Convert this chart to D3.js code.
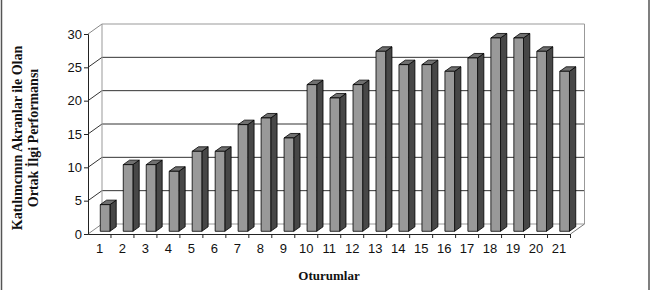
<!DOCTYPE html>
<html>
<head>
<meta charset="utf-8">
<script src="https://cdn.jsdelivr.net/npm/d3@7"></script>
<style>
html,body{margin:0;padding:0;background:#fff;}
svg{display:block;}
</style>
</head>
<body>
<svg id="chart" width="659" height="290"></svg>
<script>
const categories = ["1","2","3","4","5","6","7","8","9","10","11","12","13","14","15","16","17","18","19","20","21"];
const values = [4,10,10,9,12,12,16,17,14,22,20,22,27,25,25,24,26,29,29,27,24];
const yTicks = [0,5,10,15,20,25,30];
const yTitle = ["Katılımcının Akranlar ile Olan","Ortak İlgi Performansı"];
const xTitle = "Oturumlar";

const svg = d3.select("#chart");
const DX = 14, DY = 10;           // depth offset
const x0 = 88, x1 = 570.5;
const x = d3.scaleBand().domain(categories).range([x0, x1]).padding(0);
const y = d3.scaleLinear().domain([0, 30]).range([234, 34]);
const P = (px, py, z) => [px + z * DX, py - z * DY];

// frame lines (left/right)
svg.append("line").attr("x1",1.5).attr("x2",1.5).attr("y1",0).attr("y2",290).attr("stroke","#555").attr("stroke-width",1.5);
svg.append("line").attr("x1",649).attr("x2",649).attr("y1",0).attr("y2",290).attr("stroke","#555").attr("stroke-width",1.5);

const g = svg.append("g");
// back wall gridlines
yTicks.forEach(t => {
  const a = P(x0, y(t), 1), b = P(x1, y(t), 1);
  const col = (t === 30) ? "#999" : "#333";
  g.append("line").attr("x1", a[0]).attr("y1", a[1]).attr("x2", b[0]).attr("y2", b[1])
    .attr("stroke", t === 0 ? "#999" : col).attr("stroke-width", 1);
  g.append("line").attr("x1", x0).attr("y1", y(t)).attr("x2", a[0]).attr("y2", a[1])
    .attr("stroke", t === 30 || t === 0 ? "#888" : "#333").attr("stroke-width", 1);
});
{
  const a = P(x1, y(30), 1), b = P(x1, y(0), 1);
  g.append("line").attr("x1", a[0]).attr("y1", a[1]).attr("x2", b[0]).attr("y2", b[1]).attr("stroke", "#999");
  const c = P(x0, y(30), 1), d = P(x0, y(0), 1);
  g.append("line").attr("x1", c[0]).attr("y1", c[1]).attr("x2", d[0]).attr("y2", d[1]).attr("stroke", "#999");
  g.append("line").attr("x1", x1).attr("y1", y(0)).attr("x2", b[0]).attr("y2", b[1]).attr("stroke", "#777");
}

// bars
const zf = 0.27, zb = 0.72;
const bw = x.bandwidth();
values.forEach((v, i) => {
  const c = categories[i];
  const l = x(c) + 0.37 * bw, r = x(c) + 0.79 * bw;
  const top = y(v), bot = y(0);
  const fl_t = P(l, top, zf), fr_t = P(r, top, zf), fr_b = P(r, bot, zf), fl_b = P(l, bot, zf);
  const br_t = P(r, top, zb), br_b = P(r, bot, zb), bl_t = P(l, top, zb);
  const poly = pts => pts.map(p => p.join(",")).join(" ");
  g.append("polygon").attr("points", poly([fr_t, br_t, br_b, fr_b])).attr("fill", "#474747").attr("stroke", "#000").attr("stroke-width", 0.8);
  g.append("polygon").attr("points", poly([fl_t, bl_t, br_t, fr_t])).attr("fill", "#707070").attr("stroke", "#000").attr("stroke-width", 0.8);
  g.append("polygon").attr("points", poly([fl_t, fr_t, fr_b, fl_b])).attr("fill", "#999999").attr("stroke", "#000").attr("stroke-width", 0.8);
});

// axes
const yAxis = d3.axisLeft(y).tickValues(yTicks).tickSize(4).tickPadding(2);
const ya = svg.append("g").attr("transform", `translate(${x0},0)`).call(yAxis);
ya.select(".domain").attr("stroke", "#222");
ya.selectAll(".tick line").attr("stroke", "#222");
ya.selectAll("text").attr("font-family", "Liberation Sans, Arial, sans-serif").attr("font-size", 13).attr("fill", "#111");

const xAxis = d3.axisBottom(x).tickSize(0).tickPadding(10);
const xa = svg.append("g").attr("transform", `translate(0,${y(0)})`).call(xAxis);
xa.select(".domain").attr("stroke", "#222");
xa.selectAll("text").attr("font-family", "Liberation Sans, Arial, sans-serif").attr("font-size", 13).attr("fill", "#111");
categories.slice(1).forEach(c => {
  xa.append("line").attr("x1", x(c)).attr("x2", x(c)).attr("y1", 0).attr("y2", 4).attr("stroke", "#222");
});
xa.append("line").attr("x1", x1).attr("x2", x1).attr("y1", 0).attr("y2", 4).attr("stroke", "#222");

// titles
const yt = svg.append("text").attr("transform", "translate(22,138) rotate(-90)")
  .attr("text-anchor", "middle").attr("font-family", "Liberation Serif, Times New Roman, serif")
  .attr("font-weight", "bold").attr("font-size", 14).attr("fill", "#111");
yt.append("tspan").attr("x", 0).attr("dy", 0).text(yTitle[0]);
yt.append("tspan").attr("x", 0).attr("dy", 16).text(yTitle[1]);

svg.append("text").attr("x", 329).attr("y", 280).attr("text-anchor", "middle")
  .attr("font-family", "Liberation Serif, Times New Roman, serif").attr("font-weight", "bold")
  .attr("font-size", 13).attr("fill", "#111").text(xTitle);
</script>
</body>
</html>
